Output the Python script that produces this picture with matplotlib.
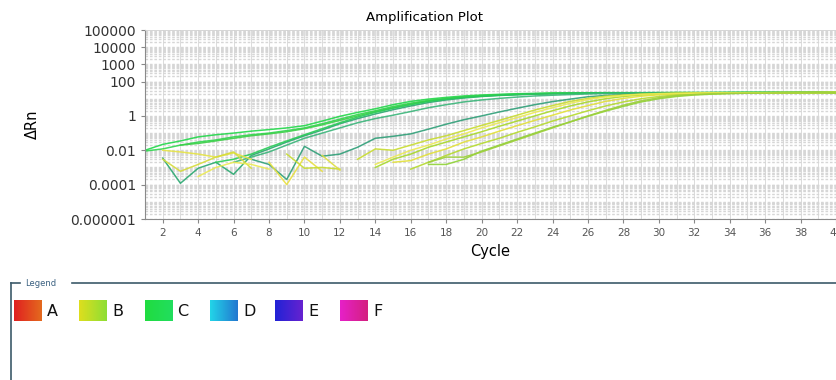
import numpy as np
import matplotlib
matplotlib.use('Agg')
import matplotlib.pyplot as plt
from matplotlib.colors import LinearSegmentedColormap

# Amplification curves: first cycle and delta Rn per cycle
curve_starts = [1, 1, 3, 2, 5, 6, 7,
                13, 14, 15, 16, 17, 14, 17,
                2, 2, 4, 8, 9, 11]
curve_values = [
    # C wells (green)
    [0.01, 0.022, 0.035, 0.06, 0.08, 0.1, 0.13, 0.16, 0.2, 0.27, 0.5, 0.95, 1.6, 2.6, 4.5, 7, 9.5, 12, 14.5, 16.5,
     18, 19.5, 20.5, 21.5, 22, 22, 22.5, 22.5, 22.5, 23, 23, 23, 23, 23.5, 23.5, 23.5, 23.5, 24, 24, 24],
    [0.009, 0.012, 0.02, 0.03, 0.04, 0.06, 0.08, 0.1, 0.14, 0.2, 0.35, 0.65, 1.2, 2, 3.5, 5.5, 8, 10.5, 13, 15,
     17, 18.5, 19.5, 20.5, 21, 21.5, 21.5, 22, 22, 22, 22.5, 22.5, 22.5, 22.5, 23, 23, 23, 23, 23, 23],
    [0.02, 0.025, 0.035, 0.05, 0.07, 0.09, 0.12, 0.18, 0.3, 0.55, 1.0, 1.8, 3, 5, 7.5, 10, 12.5, 14.5, 16.5, 18,
     19.5, 20.5, 21, 21.5, 21.5, 22, 22, 22, 22.5, 22.5, 22.5, 22.5, 23, 23, 23, 23, 23, 23],
    [0.0035, 0.00012, 0.0009, 0.002, 0.0004, 0.005, 0.012, 0.03, 0.07, 0.15, 0.35, 0.7, 1.3, 2.3, 3.8, 6, 8.5, 11,
     13.5, 15.5, 17, 18.5, 19.5, 20.5, 21, 21.5, 21.5, 22, 22, 22, 22, 22.5, 22.5, 22.5, 22.5, 22.5, 23, 23, 23],
    [0.002, 0.003, 0.006, 0.015, 0.035, 0.08, 0.18, 0.4, 0.85, 1.6, 2.8, 4.5, 7, 9.5, 12, 14, 16, 17.5, 19, 20,
     20.5, 21, 21.5, 21.5, 22, 22, 22, 22, 22.5, 22.5, 22.5, 22.5, 22.5, 22.5, 23, 23],
    [0.002, 0.004, 0.008, 0.02, 0.05, 0.1, 0.2, 0.4, 0.7, 1.1, 1.8, 3, 4.5, 6.5, 8.5, 10.5, 12.5, 14.5, 16, 17.5,
     19, 20, 20.5, 21, 21.5, 21.5, 22, 22, 22, 22, 22.5, 22.5, 22.5, 22.5, 22.5],
    [0.003, 0.0015, 0.0002, 0.017, 0.0045, 0.006, 0.015, 0.05, 0.065, 0.09, 0.17, 0.33, 0.6, 1.0, 1.7, 2.8, 4.5,
     6.8, 9.5, 13, 15.5, 17.5, 19, 20, 20.5, 21, 21.5, 21.5, 22, 22, 22, 22.5, 22.5, 22.5],
    # B wells (yellow)
    [0.003, 0.012, 0.01, 0.02, 0.04, 0.07, 0.14, 0.28, 0.55, 1.1, 2.2, 4, 7, 10.5, 14, 16.5, 18.5, 20, 21, 21.5,
     22, 22, 22.5, 22.5, 23, 23, 23, 23.5],
    [0.001, 0.003, 0.006, 0.015, 0.03, 0.06, 0.12, 0.25, 0.5, 1.0, 2.0, 3.8, 6.5, 10, 13.5, 16.5, 18.5, 20, 21,
     21.5, 22, 22, 22.5, 22.5, 23, 23, 23],
    [0.002, 0.0025, 0.006, 0.012, 0.03, 0.06, 0.13, 0.27, 0.55, 1.1, 2.2, 4, 7, 10.5, 14, 17, 19, 20.5, 21, 21.5,
     22, 22, 22.5, 22.5, 23, 23],
    [0.0008, 0.002, 0.005, 0.012, 0.025, 0.05, 0.11, 0.23, 0.5, 1.0, 2.0, 3.8, 6.5, 10, 13.5, 16.5, 18.5, 20, 21,
     21.5, 22, 22, 22.5, 22.5, 23],
    [0.0015, 0.0015, 0.003, 0.009, 0.02, 0.045, 0.1, 0.22, 0.45, 0.95, 1.9, 3.6, 6.5, 10, 13.5, 16.5, 18.5, 20, 21,
     21.5, 22, 22, 22.5, 22.5],
    [0.0015, 0.004, 0.01, 0.02, 0.045, 0.09, 0.2, 0.4, 0.8, 1.6, 3, 5.5, 9, 12.5, 15.5, 18, 19.5, 20.5, 21, 21.5,
     22, 22, 22, 22.5, 22.5, 22.5, 23],
    [0.002, 0.004, 0.004, 0.008, 0.018, 0.04, 0.09, 0.2, 0.45, 1.0, 2.1, 4.2, 7.5, 11.5, 15, 17.5, 19.5, 20.5, 21,
     21.5, 22, 22, 22.5, 22.5],
    # baseline noise before the rise
    [0.01, 0.008, 0.006, 0.004, 0.007, 0.003],
    [0.003, 0.0006, 0.0015, 0.004, 0.008, 0.0009],
    [0.0003, 0.001, 0.002, 0.0015, 0.0008],
    [0.002, 0.0001, 0.004, 0.0006],
    [0.006, 0.0009, 0.001, 0.0008],
    [0.005, 0.0007],
]
curve_colors = ['#22d84a', '#2fd64e', '#3ccf48', '#2aa870', '#28cc55', '#3bb57a', '#2f9f78',
                '#c8dc30', '#a8d82a', '#e2e03a', '#b5da2e', '#8fd236', '#ecea55', '#9ccf3a',
                '#e6e445', '#d6dc3a', '#ecea55', '#e8e040', '#c8dc30', '#dede40']

ytick_vals = [1e5, 1e4, 1e3, 1e2, 1, 1e-2, 1e-4, 1e-6]
ytick_labels = ['100000', '10000', '1000', '100', '1', '0.01', '0.0001', '0.000001']
xtick_vals = list(range(2, 41, 2))

legend_names = ['A', 'B', 'C', 'D', 'E', 'F']
legend_colors = [('#e02020', '#e46a1e'), ('#dede1e', '#8ede34'), ('#20dc40', '#22de5e'),
                 ('#22d4e8', '#2278d0'), ('#2222d6', '#6622d0'), ('#e620c8', '#d42080')]

fig = plt.figure(figsize=(8.37, 3.8), dpi=100)

# legend panel drawn in pixel coordinates
lax = fig.add_axes([0, 0, 1, 1])
lax.axis('off')
edge = '#3c5a6a'
lax.plot([11, 11], [283, 380], color=edge, lw=1.2)
lax.plot([11, 20], [283, 283], color=edge, lw=1.2)
lax.plot([72, 837], [283, 283], color=edge, lw=1.2)
lax.text(25, 283, 'Legend', fontsize=6, color='#3a6080', va='center', ha='left')
grad = np.linspace(0, 1, 50)[None, :]
for i, (name, (c0, c1)) in enumerate(zip(legend_names, legend_colors)):
    x0 = 14 + i * 65.3
    cmap = LinearSegmentedColormap.from_list('g%d' % i, [c0, c1])
    lax.imshow(grad, cmap=cmap, extent=(x0, x0 + 28, 321, 300), aspect='auto')
    lax.text(x0 + 33, 311, name, fontsize=11.5, color='#111111', va='center', ha='left')
lax.set_xlim(0, 837)
lax.set_ylim(380, 0)

# main amplification plot
ax = fig.add_axes([145 / 837, 1 - 219 / 380, 691 / 837, 189 / 380])
ax.set_yscale('log')
ax.set_xlim(1, 40)
ax.set_ylim(1e-6, 1e5)

for k in range(-6, 5):
    for m in range(1, 10):
        ax.axhline(m * 10.0 ** k, color='#d6d6d6', lw=1.0, linestyle=(0, (1.9, 1.3)), zorder=0)
for c in range(1, 41):
    ax.axvline(c, color='#d6d6d6', lw=0.6, zorder=0)

for start, vals, col in zip(curve_starts, curve_values, curve_colors):
    cyc = np.arange(start, start + len(vals))
    ax.plot(cyc, vals, color=col, lw=1.1, alpha=0.9, zorder=2)

ax.set_yticks(ytick_vals)
ax.set_yticklabels(ytick_labels, fontsize=10)
ax.yaxis.set_minor_locator(plt.NullLocator())
ax.set_xticks(xtick_vals)
ax.set_xticklabels([str(v) for v in xtick_vals], fontsize=7.5, color='#555555')
ax.tick_params(axis='both', colors='#888888', length=3, width=0.8, labelcolor='#333333')
ax.tick_params(axis='x', labelcolor='#555555')
for side in ['left', 'bottom']:
    ax.spines[side].set_color('#8a8a8a')
for side in ['top', 'right']:
    ax.spines[side].set_color('#d0d0d0')
    ax.spines[side].set_linewidth(0.6)

ax.set_xlabel('Cycle', fontsize=10.5, labelpad=4)
ax.set_ylabel('ΔRn', fontsize=10.5, labelpad=22)
fig.text(425 / 837, 1 - 17 / 380, 'Amplification Plot', fontsize=9.5, ha='center', va='center')

fig.savefig('out.png', dpi=100)
